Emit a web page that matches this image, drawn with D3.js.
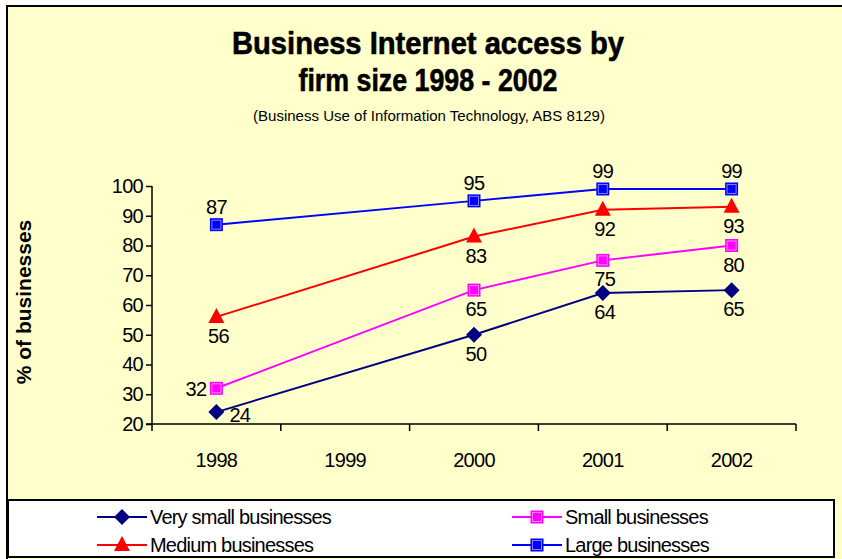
<!DOCTYPE html>
<html>
<head>
<meta charset="utf-8">
<script src="https://cdn.jsdelivr.net/npm/d3@7"></script>
<style>
  html, body { margin: 0; padding: 0; background: #ffffff; }
  svg { display: block; font-family: Arial, "Liberation Sans", sans-serif; }
</style>
</head>
<body>
<svg id="chart" width="842" height="559"></svg>
<script>
// Survey years on the category axis (1999 has no survey)
const years = ["1998", "1999", "2000", "2001", "2002"];
const surveyYears = ["1998", "2000", "2001", "2002"];

// Share of businesses with Internet access, %
const verySmall = [24, 50, 64, 65];
const small     = [32, 65, 75, 80];
const medium    = [56, 83, 92, 93];
const large     = [87, 95, 99, 99];

const seriesNames = ["Very small businesses", "Small businesses", "Medium businesses", "Large businesses"];
const yTicks = [20, 30, 40, 50, 60, 70, 80, 90, 100];

const series = [
  { name: seriesNames[0], values: verySmall, color: "#000080", marker: "diamond",  place: ["right", "below", "below", "below"] },
  { name: seriesNames[1], values: small,     color: "#ff00ff", marker: "square",   place: ["left", "below", "below", "below"] },
  { name: seriesNames[2], values: medium,    color: "#ff0000", marker: "triangle", place: ["below", "below", "below", "below"] },
  { name: seriesNames[3], values: large,     color: "#0000ff", marker: "square",   place: ["above", "above", "above", "above"] }
];

const svg = d3.select("#chart");
const LABEL_SIZE = 20;
const LABEL_SPACING = -0.7;

// Chart area (pale yellow) with frame
svg.append("rect").attr("x", 7).attr("y", 6).attr("width", 860).attr("height", 570)
  .attr("fill", "#ffffcc").attr("stroke", "#000").attr("stroke-width", 2);

// Titles
const titleLines = [
  { text: "Business Internet access by", y: 54, len: 392 },
  { text: "firm size 1998 - 2002", y: 91, len: 259 }
];
titleLines.forEach(t => {
  svg.append("text").attr("x", 428).attr("y", t.y).attr("text-anchor", "middle")
    .attr("font-size", 31).attr("font-weight", "bold").attr("fill", "#000")
    .attr("stroke", "#000").attr("stroke-width", 0.6)
    .attr("textLength", t.len).attr("lengthAdjust", "spacingAndGlyphs")
    .text(t.text);
});
svg.append("text").attr("x", 429).attr("y", 121).attr("text-anchor", "middle")
  .attr("font-size", 15.5).attr("fill", "#000")
  .attr("textLength", 352).attr("lengthAdjust", "spacingAndGlyphs")
  .text("(Business Use of Information Technology, ABS 8129)");

// Scales
const x = d3.scaleBand().domain(years).range([152, 796]);
const y = d3.scaleLinear().domain([20, 100]).range([424, 186]);
const cx = yr => x(yr) + x.bandwidth() / 2;

// Y axis
const yAxis = svg.append("g").attr("transform", "translate(152,0)")
  .call(d3.axisLeft(y).tickValues(yTicks).tickSize(6).tickPadding(3));
yAxis.select(".domain").attr("stroke", "#000").attr("stroke-width", 1.5).attr("d", "M0,186V424");
yAxis.selectAll(".tick line").attr("stroke", "#000").attr("stroke-width", 1.5);
yAxis.selectAll(".tick text").attr("font-size", LABEL_SIZE).attr("fill", "#000")
  .attr("font-family", "Arial, 'Liberation Sans', sans-serif").attr("letter-spacing", LABEL_SPACING);

// X axis: ticks between categories
const xAxisG = svg.append("g").attr("transform", "translate(0,424)");
xAxisG.append("line").attr("x1", 146).attr("x2", 796).attr("y1", 0).attr("y2", 0)
  .attr("stroke", "#000").attr("stroke-width", 1.5);
const bounds = years.map(yr => x(yr)).concat([x(years[years.length - 1]) + x.bandwidth()]);
xAxisG.selectAll("line.tk").data(bounds).join("line").attr("class", "tk")
  .attr("x1", d => d).attr("x2", d => d).attr("y1", 0).attr("y2", 7)
  .attr("stroke", "#000").attr("stroke-width", 1.5);
xAxisG.selectAll("text").data(years).join("text")
  .attr("x", d => cx(d)).attr("y", 43).attr("text-anchor", "middle")
  .attr("font-size", LABEL_SIZE).attr("letter-spacing", LABEL_SPACING).attr("fill", "#000").text(d => d);

// Y axis title
svg.append("text").attr("transform", "translate(31,302) rotate(-90)")
  .attr("text-anchor", "middle").attr("font-size", 21).attr("font-weight", "bold")
  .attr("fill", "#000").text("% of businesses");

// Marker drawing
function drawMarker(g, type, color, px, py) {
  if (type === "diamond") {
    g.append("path").attr("d", `M${px},${py - 8}L${px + 8},${py}L${px},${py + 8}L${px - 8},${py}Z`)
      .attr("fill", color);
  } else if (type === "triangle") {
    g.append("path").attr("d", `M${px},${py - 9}L${px + 8},${py + 6}L${px - 8},${py + 6}Z`)
      .attr("fill", color);
  } else {
    g.append("rect").attr("x", px - 6.5).attr("y", py - 6.5).attr("width", 13).attr("height", 13)
      .attr("fill", color);
    g.append("rect").attr("x", px - 4.5).attr("y", py - 4.5).attr("width", 9).attr("height", 9)
      .attr("fill", "none").attr("stroke", "#ffffff").attr("stroke-opacity", 0.5).attr("stroke-width", 1);
    g.append("rect").attr("x", px - 3).attr("y", py - 3).attr("width", 6).attr("height", 6)
      .attr("fill", color);
  }
}

const line = d3.line().x((d, i) => cx(surveyYears[i])).y(d => y(d));

series.forEach(s => {
  const g = svg.append("g");
  g.append("path").datum(s.values).attr("d", line)
    .attr("fill", "none").attr("stroke", s.color).attr("stroke-width", 2);
  s.values.forEach((v, i) => drawMarker(g, s.marker, s.color, cx(surveyYears[i]), y(v)));
  s.values.forEach((v, i) => {
    const px = cx(surveyYears[i]), py = y(v);
    let tx = px, ty = py, anchor = "middle";
    const p = s.place[i];
    if (p === "above") { ty = py - 11; }
    else if (p === "below") { ty = py + 26; tx = px + 2; }
    else if (p === "left") { tx = px - 10; ty = py + 8; anchor = "end"; }
    else if (p === "right") { tx = px + 13; ty = py + 10; anchor = "start"; }
    g.append("text").attr("x", tx).attr("y", ty).attr("text-anchor", anchor)
      .attr("font-size", LABEL_SIZE).attr("letter-spacing", LABEL_SPACING).attr("fill", "#000").text(v);
  });
});

// Legend
svg.append("rect").attr("x", 8).attr("y", 500).attr("width", 826).attr("height", 57)
  .attr("fill", "#ffffff").attr("stroke", "#000").attr("stroke-width", 2);
const legendPos = [
  { lx: 97, ly: 517 }, { lx: 512, ly: 517 },
  { lx: 97, ly: 545 }, { lx: 512, ly: 545 }
];
series.forEach((s, i) => {
  const p = legendPos[i];
  const g = svg.append("g");
  g.append("line").attr("x1", p.lx).attr("x2", p.lx + 50).attr("y1", p.ly).attr("y2", p.ly)
    .attr("stroke", s.color).attr("stroke-width", 2);
  drawMarker(g, s.marker, s.color, p.lx + 25, p.ly);
  g.append("text").attr("x", p.lx + 53).attr("y", p.ly + 7).attr("font-size", 20)
    .attr("letter-spacing", -0.8).attr("fill", "#000").text(s.name);
});
</script>
</body>
</html>
